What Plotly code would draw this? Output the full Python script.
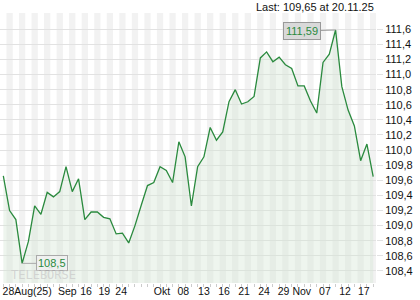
import plotly.graph_objects as go

# ---- data ----
values = [109.66, 109.20, 109.08, 108.50, 108.79, 109.26, 109.15, 109.44, 109.38, 109.45,
          109.78, 109.45, 109.62, 109.08, 109.18, 109.18, 109.11, 109.09, 108.89, 108.90,
          108.77, 109.00, 109.27, 109.53, 109.57, 109.78, 109.73, 109.57, 110.11, 109.91,
          109.26, 109.78, 109.91, 110.30, 110.13, 110.24, 110.64, 110.80, 110.61, 110.64,
          110.71, 111.22, 111.30, 111.17, 111.23, 111.13, 111.08, 110.85, 110.85, 110.65,
          110.49, 111.16, 111.27, 111.59, 110.84, 110.53, 110.32, 109.86, 110.08, 109.65]
idx = list(range(1, len(values) + 1))

x_tick_pos = [4.8, 11.2, 14.2, 17.1, 19.8, 26.3, 29.7, 33.0, 36.2, 39.4, 42.6, 45.7, 48.6, 52.3, 55.5, 58.5]
x_tick_text = ["28Aug(25)", "Sep", "16", "19", "24", "Okt", "08", "13", "16", "21", "24", "29",
               "Nov", "07", "12", "17"]
y_ticks = [108.4, 108.6, 108.8, 109.0, 109.2, 109.4, 109.6, 109.8, 110.0, 110.2, 110.4,
           110.6, 110.8, 111.0, 111.2, 111.4, 111.6]

hi_val = max(values)
lo_val = min(values)
hi_idx = idx[values.index(hi_val)]
lo_idx = idx[values.index(lo_val)]
last_text = "Last: 109,65 at 20.11.25"

Y_MIN, Y_MAX = 108.24, 111.815
X_MIN, X_MAX = 0.47, 60.45

green = "#2a8a3e"
font_family = "Liberation Sans, Arial, sans-serif"

fig = go.Figure()

# baseline trace for fill
fig.add_trace(go.Scatter(x=idx, y=[Y_MIN] * len(idx), mode="lines",
                         line=dict(width=0), hoverinfo="skip", showlegend=False))
fig.add_trace(go.Scatter(x=idx, y=values, mode="lines", fill="tonexty",
                         fillcolor="rgba(210,230,210,0.38)",
                         line=dict(color=green, width=1.3), showlegend=False))

# alternating vertical stripes
shapes = []
for i in idx:
    if i % 2 == 0:
        shapes.append(dict(type="rect", xref="x", yref="paper", x0=i - 0.5, x1=i + 0.5,
                           y0=0, y1=1, fillcolor="#f2f2f2", line=dict(width=0), layer="below"))

annotations = [
    dict(x=hi_idx, y=hi_val, xref="x", yref="y", text=f"{hi_val:.2f}".replace(".", ","),
         showarrow=True, ax=-34, ay=1, arrowhead=0, arrowwidth=1, arrowcolor="#999",
         bgcolor="#d9d9d9", bordercolor="#999", borderwidth=1, borderpad=2,
         font=dict(color=green, size=11, family=font_family)),
    dict(x=lo_idx, y=lo_val, xref="x", yref="y", text=f"{lo_val:.1f}".replace(".", ","),
         showarrow=True, ax=30, ay=0, arrowhead=0, arrowwidth=1, arrowcolor="#aaa",
         bgcolor="rgba(240,240,240,0.8)", bordercolor="#aaa", borderwidth=1, borderpad=1,
         font=dict(color=green, size=11, family=font_family)),
    dict(x=1.0, y=1.0, xref="paper", yref="paper", yanchor="bottom", xanchor="right",
         text=last_text, showarrow=False, yshift=-2,
         font=dict(color="#111", size=11, family=font_family)),
    dict(x=0.025, y=0.0, xref="paper", yref="paper", xanchor="left", yanchor="bottom",
         text="TELEBÖRSE", showarrow=False, yshift=-1,
         font=dict(color="rgba(200,200,200,0.7)", size=12, family="DejaVu Sans Mono")),
]

fig.update_layout(
    width=420, height=300,
    margin=dict(l=0, r=44, t=13, b=17),
    paper_bgcolor="white", plot_bgcolor="white",
    separators=",.",
    shapes=shapes,
    annotations=annotations,
    xaxis=dict(range=[X_MIN, X_MAX], tickvals=x_tick_pos, ticktext=x_tick_text,
               tickangle=0, automargin=False,
               showgrid=False, zeroline=False, ticks="", ticklen=0,
               tickfont=dict(size=10.5, color="#111", family=font_family),
               minor=dict(tick0=1, dtick=1, ticks="outside", ticklen=3, tickcolor="#ccc",
                          showgrid=False),
               fixedrange=True),
    yaxis=dict(range=[Y_MIN, Y_MAX], side="right", tickvals=y_ticks,
               ticktext=[f"{v:.1f}".replace(".", ",") for v in y_ticks],
               showgrid=True, gridcolor="#e2e2e2", gridwidth=1, zeroline=False,
               ticks="outside", ticklen=6, tickcolor="#e2e2e2", automargin=False,
               tickfont=dict(size=11, color="#111", family=font_family),
               fixedrange=True),
)

fig.write_html("out.html", config={"displayModeBar": False})
